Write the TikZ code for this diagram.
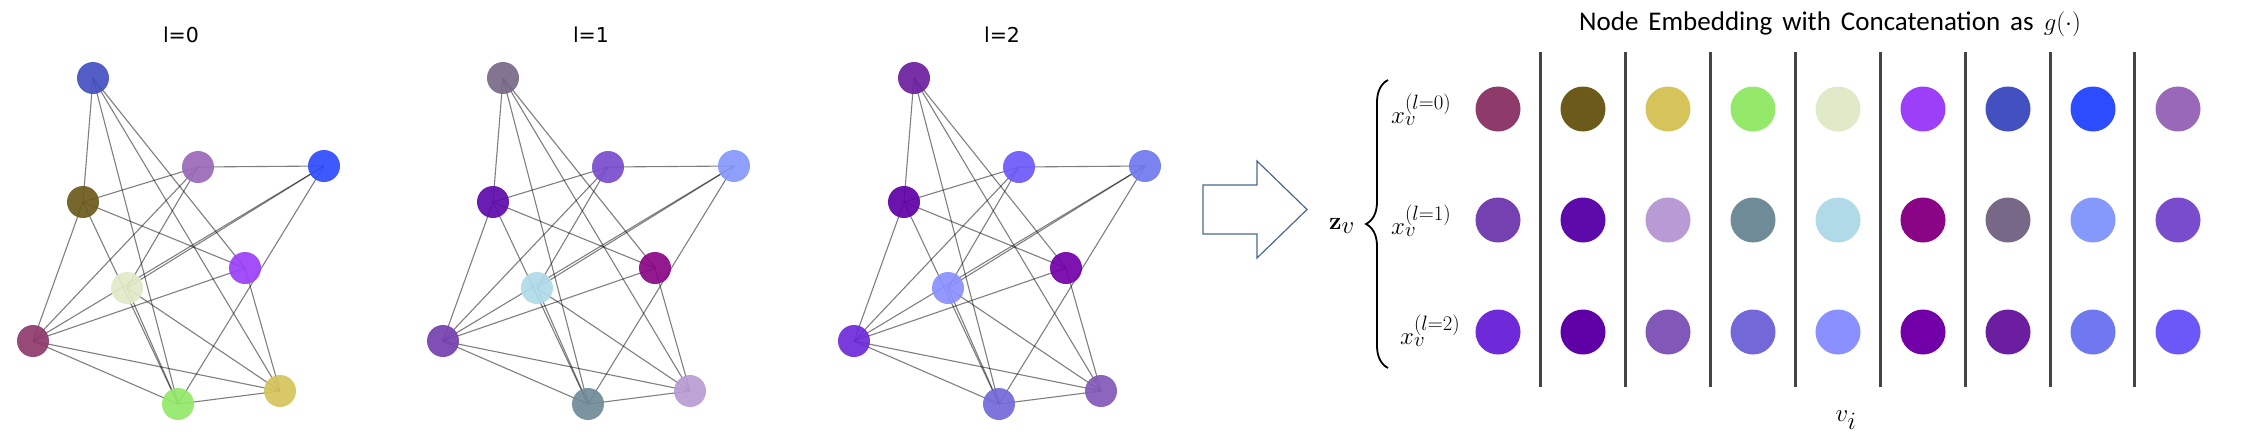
\documentclass[tikz,border=0pt]{standalone}
\usepackage[no-math]{fontspec}
\setmainfont{Carlito}
\newfontfamily\djv{DejaVu Sans}
\usetikzlibrary{backgrounds,decorations.pathreplacing}
% graph colours: c<layer><node>
\definecolor{c0A}{HTML}{4350C0}\definecolor{c0B}{HTML}{6B5A1A}\definecolor{c0C}{HTML}{9A68B8}
\definecolor{c0D}{HTML}{2E4CFF}\definecolor{c0E}{HTML}{9B40F8}\definecolor{c0F}{HTML}{E0EAC8}
\definecolor{c0G}{HTML}{8E3A6B}\definecolor{c0H}{HTML}{94E86A}\definecolor{c0I}{HTML}{D6C35A}
\definecolor{c1A}{HTML}{786888}\definecolor{c1B}{HTML}{5C0AAA}\definecolor{c1C}{HTML}{784CCC}
\definecolor{c1D}{HTML}{8598FC}\definecolor{c1E}{HTML}{8A0585}\definecolor{c1F}{HTML}{B0DAE8}
\definecolor{c1G}{HTML}{7540B0}\definecolor{c1H}{HTML}{6F8B98}\definecolor{c1I}{HTML}{B89BD4}
\definecolor{c2A}{HTML}{6C1EA0}\definecolor{c2B}{HTML}{5E00A6}\definecolor{c2C}{HTML}{6C58F8}
\definecolor{c2D}{HTML}{7078F0}\definecolor{c2E}{HTML}{7200A8}\definecolor{c2F}{HTML}{8A90FF}
\definecolor{c2G}{HTML}{6E2AD8}\definecolor{c2H}{HTML}{7468D8}\definecolor{c2I}{HTML}{8158B8}
\definecolor{arrowblue}{HTML}{4A6890}
\definecolor{sepgray}{HTML}{444444}
\tikzset{
  gnode/.style={circle,inner sep=0pt,minimum size=32pt,fill opacity=0.92,draw=none},
  gedge/.style={draw=black,draw opacity=0.5,line width=1.1pt},
  cell/.style={circle,inner sep=0pt,minimum size=45pt,draw=none},
  sepline/.style={draw=sepgray,line width=3pt},
  gtitle/.style={font=\djv\fontsize{20.5}{24}\selectfont},
  xlab/.style={anchor=west,inner sep=0pt,font=\fontsize{30}{34}\selectfont}
}
\begin{document}
\begin{tikzpicture}[x=1pt,y=-1pt]
\useasboundingbox (0,0) rectangle (2244,445);
% ---- three graphs ----
\foreach \g/\dx in {0/0,1/410,2/821} {
  \begin{scope}[xshift=\dx pt]
    \node[gtitle] (T\g) at (181,35) {l=\g};
    \node[gnode,fill=c\g A] (A\g) at (93,78) {};
    \node[gnode,fill=c\g B] (B\g) at (83,202) {};
    \node[gnode,fill=c\g C] (C\g) at (198,167) {};
    \node[gnode,fill=c\g D] (D\g) at (324,166) {};
    \node[gnode,fill=c\g E] (E\g) at (245,268) {};
    \node[gnode,fill=c\g F] (F\g) at (127,288) {};
    \node[gnode,fill=c\g G] (G\g) at (33,341) {};
    \node[gnode,fill=c\g H] (H\g) at (178,404) {};
    \node[gnode,fill=c\g I] (I\g) at (280,391) {};
    \begin{pgfonlayer}{background}
      \foreach \p/\q in {A/B,A/H,A/I,A/E,B/C,B/E,B/G,B/H,C/D,C/F,C/G,D/F,D/G,D/H,E/G,E/I,F/H,F/I,G/H,G/I,H/I}
        \draw[gedge] (\p\g.center) -- (\q\g.center);
    \end{pgfonlayer}
  \end{scope}
}
% ---- block arrow ----
\draw[arrowblue,line width=1.2pt] (1203,185) -- (1257,185) -- (1257,161) -- (1307,209.5)
  -- (1257,258) -- (1257,234) -- (1203,234) -- cycle;
% ---- z_v and brace ----
\node[inner sep=0pt,font=\fontsize{30}{34}\selectfont] (zv) at (1342,226) {$\mathbf{z}_{\textstyle v}$};
\coordinate (bb) at (1388,368);
\coordinate (bt) at (1388,80);
\draw[line width=1.8pt,decorate,decoration={brace,amplitude=22pt}] (bb) -- (bt);
% ---- row labels ----
\node[xlab] (x0) at (1391,110) {$x_v^{(l=0)}$};
\node[xlab] (x1) at (1391,221) {$x_v^{(l=1)}$};
\node[xlab] (x2) at (1400,331) {$x_v^{(l=2)}$};
% ---- title ----
\node[inner sep=0pt,font=\fontsize{27}{31}\selectfont] (title) at (1830,24)
  {\spaceskip=10pt plus 2pt Node Embedding with Concatenation as $g(\cdot)$};
% ---- separators ----
\foreach \k/\xx in {1/1540,2/1625,3/1710,4/1795,5/1880,6/1965,7/2050,8/2134} {
  \coordinate (st\k) at (\xx,52);
  \coordinate (sb\k) at (\xx,387);
  \draw[sepline] (st\k) -- (sb\k);
}
% ---- embedding table ----
\foreach \n [count=\k] in {G,B,I,H,F,E,A,D,C} {
  \pgfmathsetmacro\cx{1498+85*(\k-1)}
  \node[cell,fill=c0\n] (r0c\k) at (\cx,109) {};
  \node[cell,fill=c1\n] (r1c\k) at (\cx,220) {};
  \node[cell,fill=c2\n] (r2c\k) at (\cx,332) {};
}
% ---- v_i ----
\node[inner sep=0pt,font=\fontsize{36}{40}\selectfont] (vi) at (1846,420) {$v_i$};
\end{tikzpicture}
\end{document}
